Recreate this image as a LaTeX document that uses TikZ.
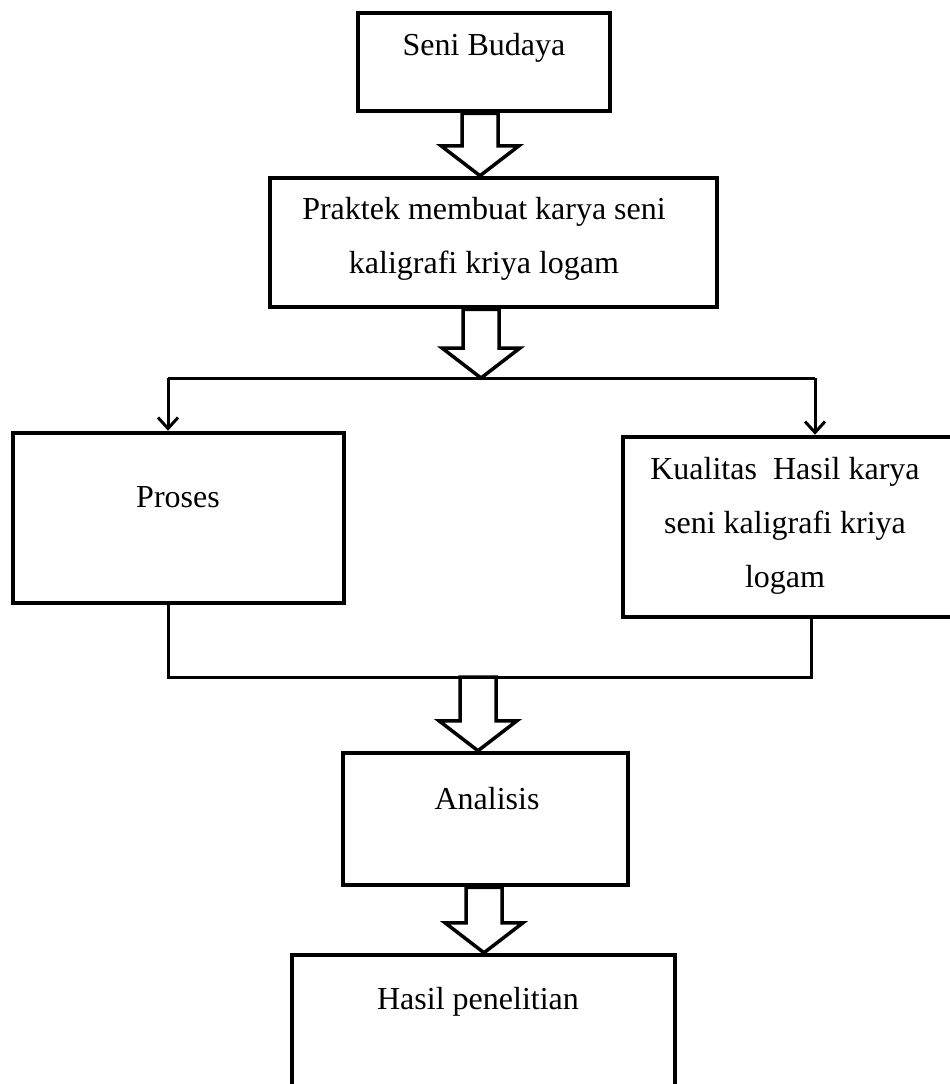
\documentclass[tikz,border=0pt]{standalone}
\usepackage{fontspec}
\setmainfont{Liberation Serif}
\usetikzlibrary{positioning}
\usetikzlibrary{arrows,shapes,calc,arrows.meta}
\tikzset{
    >={Straight Barb[length=11pt,width=20pt]}, % small barbed heads on the split
    box/.style={draw, rectangle, line width=4.5pt, inner sep=0pt},
    txt/.style={font=\fontsize{32}{54}\selectfont, align=center, inner sep=0pt},
    link/.style={line width=3pt},
    hollow/.style={draw, line width=3.5pt, line join=miter},
}
% big hollow arrow: x position, start anchor, tip anchor
\newcommand{\hollowarrow}[3]{%
    \coordinate (ha) at (#1,0);
    \draw[hollow] ($(#2 -| ha)+(-18,0)$) -- ($(#3 -| ha)+(-18,-30)$) -- ++(-21,0)
        -- (#3 -| ha) -- ++(39,-30) -- ++(-21,0) -- ($(#2 -| ha)+(18,0)$) -- cycle;
}

\begin{document}
\begin{tikzpicture}[x=1pt, y=-1pt]
            \useasboundingbox (0,0) rectangle (950,1084);

            % top
            \node[box, minimum width=252pt, minimum height=98pt] (seni) at (484,62) {};
            \node[txt] (senitxt) at (484,48) {Seni Budaya};

            \node[box, minimum width=447pt, minimum height=129pt] (praktek) at (493.5,242.5) {};
            \node[txt] (praktektxt) at (484,239) {Praktek membuat karya seni\\kaligrafi kriya logam};

            % middle branches
            \node[box, minimum width=331pt, minimum height=170pt] (proses) at (178.5,518) {};
            \node[txt] (prosestxt) at (178,497) {Proses};

            \node[box, minimum width=347pt, minimum height=180pt] (kualitas) at (796.5,527) {};
            \node[txt] (kualitastxt) at (785,526) {Kualitas~ Hasil karya\\seni kaligrafi kriya\\logam};

            % bottom
            \node[box, minimum width=285pt, minimum height=132pt] (analisis) at (485.5,819) {};
            \node[txt] (analisistxt) at (487,799) {Analisis};

            \node[box, minimum width=383pt, minimum height=145pt] (hasil) at (483.5,1027.5) {};
            \node[txt] (hasiltxt) at (478,1002) {Hasil penelitian};

            \coordinate (split) at (481,378);
            \coordinate (lsplit) at (168,378);
            \coordinate (rsplit) at (815,378);
            \coordinate (join) at (478,677);
            \coordinate (ljoin) at (168,677);
            \coordinate (rjoin) at (811,677);

            \hollowarrow{480}{seni.south}{praktek.north}
            \hollowarrow{481}{praktek.south}{split}
            \hollowarrow{478}{join}{analisis.north}
            \hollowarrow{484}{analisis.south}{hasil.north}

            \draw[link] (lsplit) -- (rsplit);
            \draw[link, ->] (lsplit) -- (lsplit |- proses.north);
            \draw[link, ->] (rsplit) -- (rsplit |- kualitas.north);
            \draw[link] (ljoin |- proses.south) -- (ljoin) -- (rjoin) -- (rjoin |- kualitas.south);
        \end{tikzpicture}
\end{document}
